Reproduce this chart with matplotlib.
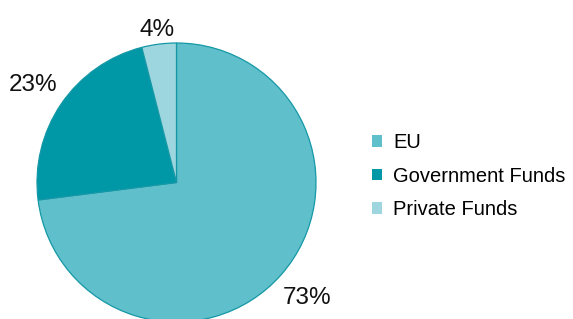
import numpy as np
import matplotlib.pyplot as plt
from matplotlib.patches import Patch

plt.rcParams['font.family'] = ['Liberation Sans', 'DejaVu Sans']

labels = ['EU', 'Government Funds', 'Private Funds']
shares = [73, 23, 4]
colors = ['#5fbfcb', '#0097a7', '#9ed6e0']
label_dist = [1.25, 1.24, 1.10]

fig = plt.figure(figsize=(5.73, 3.19), dpi=100)
ax = fig.add_axes([37 / 573, -3 / 319, 279 / 573, 279 / 319])

wedges, _ = ax.pie(shares, colors=colors, startangle=90, counterclock=False,
                   radius=1, wedgeprops=dict(edgecolor='#1598a6', linewidth=0.9))
ax.set_xlim(-1, 1)
ax.set_ylim(-1, 1)
ax.set_aspect('equal')

# percentage labels outside each slice
for w, val, d in zip(wedges, shares, label_dist):
    ang = np.deg2rad((w.theta1 + w.theta2) / 2)
    ax.text(d * np.cos(ang), d * np.sin(ang), f'{val}%', ha='center', va='center',
            fontsize=17.5, color='#111111', clip_on=False)

handles = [Patch(facecolor=c, edgecolor='none') for c in colors]
fig.legend(handles, labels, loc='center left', bbox_to_anchor=(354 / 573, 1 - 176 / 319),
           frameon=False, fontsize=14.5, handlelength=0.5, handleheight=0.5,
           handletextpad=0.55, labelspacing=0.72)

fig.savefig('out.png', dpi=100)
